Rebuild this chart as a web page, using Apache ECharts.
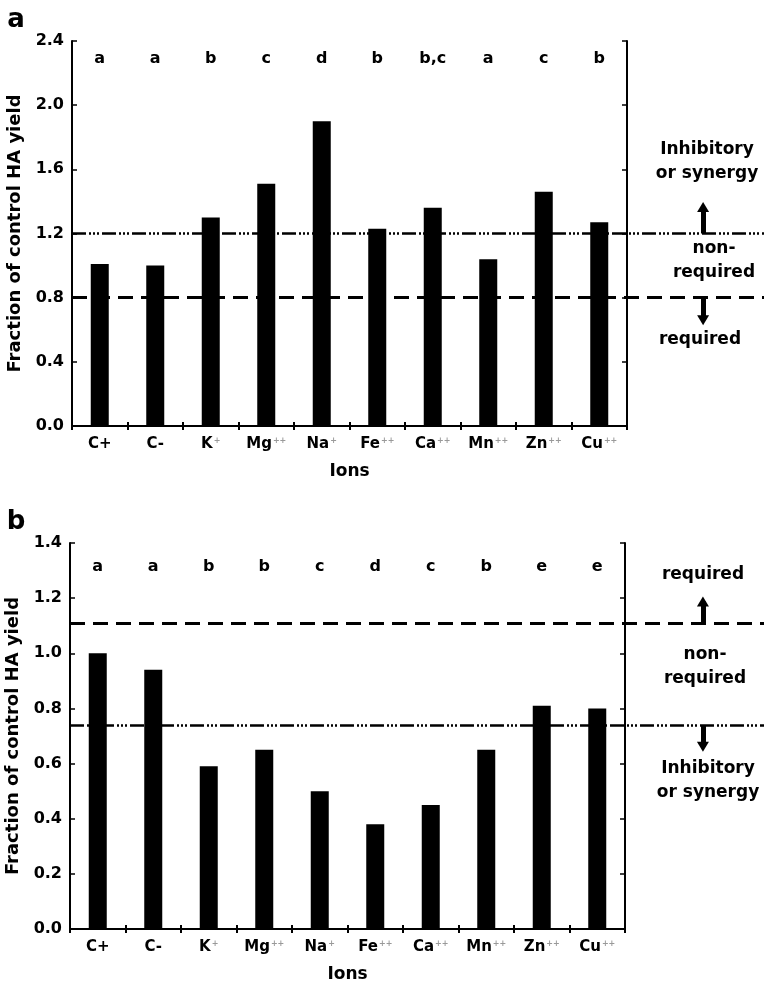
<!DOCTYPE html>
<html>
<head>
<meta charset="utf-8">
<script src="https://cdn.jsdelivr.net/npm/echarts@6/dist/echarts.min.js"></script>
<style>
html,body{margin:0;padding:0;background:#fff;}
#chart{width:764px;height:987px;}
</style>
</head>
<body>
<div id="chart"></div>
<script>
// ---- data ----
const categories = ['C+', 'C-', 'K+', 'Mg++', 'Na+', 'Fe++', 'Ca++', 'Mn++', 'Zn++', 'Cu++'];
const valuesA = [1.01, 1.00, 1.30, 1.51, 1.90, 1.23, 1.36, 1.04, 1.46, 1.27];
const valuesB = [1.00, 0.94, 0.59, 0.65, 0.50, 0.38, 0.45, 0.65, 0.81, 0.80];
const lettersA = ['a', 'a', 'b', 'c', 'd', 'b', 'b,c', 'a', 'c', 'b'];
const lettersB = ['a', 'a', 'b', 'b', 'c', 'd', 'c', 'b', 'e', 'e'];
const yTicksA = [0, 0.4, 0.8, 1.2, 1.6, 2.0, 2.4];
const yTicksB = [0, 0.2, 0.4, 0.6, 0.8, 1.0, 1.2, 1.4];
const thresholdsA = { upper: 1.2, lower: 0.8 };
const thresholdsB = { upper: 1.11, lower: 0.74 };
const arrowsA = { up: 1.365, down: 0.66 };
const arrowsB = { up: 1.188, down: 0.661 };

// ---- styles ----
const FONT = '"DejaVu Sans", sans-serif';
const dashDot = [14, 3, 2, 2, 2, 2, 2, 3];
const dashed = [15, 8];

function catLabel(v) {
  const m = v.match(/^([A-Z][a-z]?)(\+\+|\+)$/);
  if (m && m[1] !== 'C') return m[1] + '{s|' + m[2] + '}';
  return v;
}

function panel(idx, top, left, height, ticks, values, letters, thr, arrows, letterMargin, upperStyle, lowerStyle) {
  const g = idx * 2;
  const ymax = ticks[ticks.length - 1];
  const interval = ticks[1] - ticks[0];
  const grids = [
    { left: left, top: top, width: 555, height: height, outerBoundsMode: 'none', containLabel: false },
    { left: left, top: top, right: 0, height: height, outerBoundsMode: 'none', containLabel: false }
  ];
  const xAxes = [
    {
      type: 'category', gridIndex: g, position: 'bottom', data: categories,
      axisLine: { show: true, lineStyle: { color: '#000', width: 2 } },
      axisTick: { show: true, inside: true, length: 4, interval: 0, lineStyle: { color: '#000', width: 2 } },
      axisLabel: {
        interval: 0, hideOverlap: false,
        margin: 11, color: '#000', fontFamily: FONT, fontWeight: 'bold', fontSize: 15,
        formatter: catLabel,
        rich: { s: { fontSize: 8, color: '#999', fontWeight: 'bold', fontFamily: FONT, verticalAlign: 'top', padding: [0, 0, 0, 1] } }
      },
      name: 'Ions', nameLocation: 'middle', nameGap: 37,
      nameTextStyle: { color: '#000', fontFamily: FONT, fontWeight: 'bold', fontSize: 17 }
    },
    {
      type: 'category', gridIndex: g, position: 'top', data: letters,
      axisLine: { show: true, lineStyle: { color: '#000', width: 2 } },
      axisTick: { show: true, inside: true, length: 4, interval: 0, lineStyle: { color: '#000', width: 2 } },
      axisLabel: { interval: 0, hideOverlap: false, inside: true, margin: letterMargin, color: '#000', fontFamily: FONT, fontWeight: 'bold', fontSize: 16 }
    },
    { type: 'value', gridIndex: g + 1, min: 0, max: 1, show: false }
  ];
  const yAxes = [
    {
      type: 'value', gridIndex: g, position: 'left', min: 0, max: ymax, interval: interval,
      axisLine: { show: true, lineStyle: { color: '#000', width: 2 } },
      axisTick: { show: true, inside: true, length: 5, lineStyle: { color: '#000', width: 1.5 } },
      splitLine: { show: false },
      axisLabel: { margin: 8, color: '#000', fontFamily: FONT, fontWeight: 'bold', fontSize: 16, formatter: v => v.toFixed(1) },
      name: 'Fraction of control HA yield', nameLocation: 'middle', nameGap: 46, nameRotate: 90,
      nameTextStyle: { color: '#000', fontFamily: FONT, fontWeight: 'bold', fontSize: 18 }
    },
    {
      type: 'value', gridIndex: g, position: 'right', min: 0, max: ymax, interval: interval,
      axisLine: { show: true, lineStyle: { color: '#000', width: 2 } },
      axisTick: { show: true, inside: true, length: 5, lineStyle: { color: '#000', width: 1.5 } },
      splitLine: { show: false },
      axisLabel: { show: false }
    },
    { type: 'value', gridIndex: g + 1, min: 0, max: ymax, show: false }
  ];
  const xi = idx * 3, yi = idx * 3;
  const arrowX = 0.912;
  const series = [
    {
      type: 'bar', xAxisIndex: xi, yAxisIndex: yi, data: values, barWidth: 18,
      itemStyle: { color: '#000' }, silent: true
    },
    {
      type: 'line', xAxisIndex: xi + 2, yAxisIndex: yi + 2, data: [[0, 0]], symbol: 'none',
      lineStyle: { opacity: 0 }, silent: true,
      markLine: {
        silent: true, symbol: 'none', label: { show: false },
        data: [
          { yAxis: thr.upper, lineStyle: Object.assign({ color: '#000', type: 'solid' }, upperStyle) },
          { yAxis: thr.lower, lineStyle: Object.assign({ color: '#000', type: 'solid' }, lowerStyle) },
          [
            { coord: [arrowX, thr.upper], symbol: 'none' },
            { coord: [arrowX, arrows.up], symbol: 'triangle', symbolSize: [12, 10], lineStyle: { color: '#000', width: 5, type: 'solid' } }
          ],
          [
            { coord: [arrowX, thr.lower], symbol: 'none' },
            { coord: [arrowX, arrows.down], symbol: 'triangle', symbolSize: [12, 10], lineStyle: { color: '#000', width: 5, type: 'solid' } }
          ]
        ]
      },
      animation: false
    }
  ];
  return { grids, xAxes, yAxes, series };
}

const pA = panel(0, 41, 72, 385, yTicksA, valuesA, lettersA, thresholdsA, arrowsA, 10,
  { width: 2.5, type: dashDot }, { width: 3, type: dashed });
const pB = panel(1, 543, 70, 386, yTicksB, valuesB, lettersB, thresholdsB, arrowsB, 16,
  { width: 3, type: dashed }, { width: 2.5, type: dashDot });

function txt(x, y, s, size) {
  return {
    type: 'text', x: x, y: y, silent: true,
    style: { text: s, fill: '#000', font: 'bold ' + size + 'px ' + FONT, align: 'center', verticalAlign: 'middle', lineHeight: 24 }
  };
}

const option = {
  animation: false,
  backgroundColor: '#fff',
  grid: pA.grids.concat(pB.grids),
  xAxis: pA.xAxes.concat(pB.xAxes),
  yAxis: pA.yAxes.concat(pB.yAxes),
  series: pA.series.concat(pB.series),
  graphic: [
    txt(16, 20, 'a', 26),
    txt(16, 522, 'b', 26),
    txt(707, 162, 'Inhibitory\nor synergy', 17),
    txt(714, 261, 'non-\nrequired', 17),
    txt(700, 340, 'required', 17),
    txt(703, 575, 'required', 17),
    txt(705, 667, 'non-\nrequired', 17),
    txt(708, 781, 'Inhibitory\nor synergy', 17)
  ]
};

const chart = echarts.init(document.getElementById('chart'), null, { renderer: 'canvas' });
chart.setOption(option);
</script>
</body>
</html>
